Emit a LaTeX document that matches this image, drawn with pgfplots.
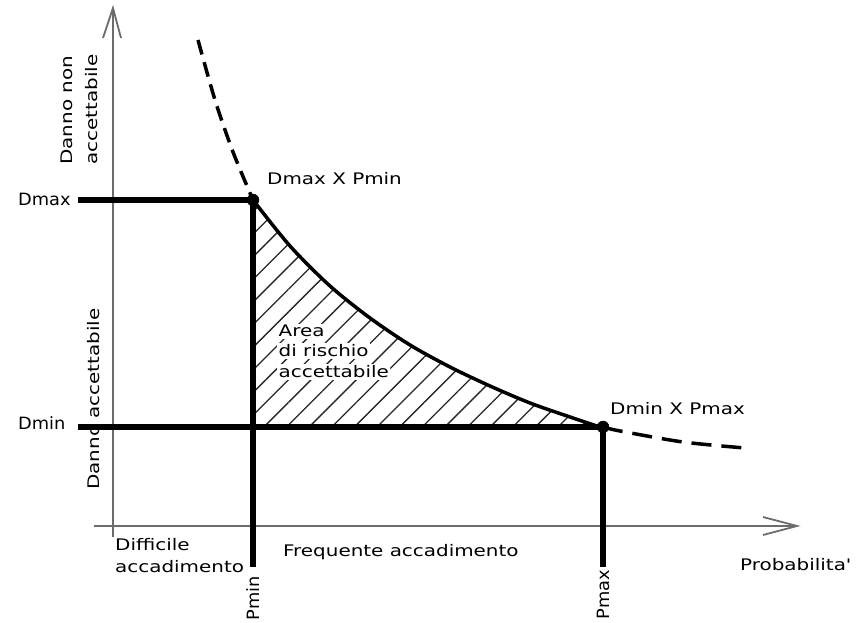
\documentclass[border=0pt]{standalone}
\usepackage{pgfplots}
\pgfplotsset{compat=1.18}
\usepgfplotslibrary{fillbetween}
\usetikzlibrary{patterns.meta}
\usepackage{fontspec}
\newfontfamily\cad[FakeStretch=1.25]{DejaVu Sans}
\newfontfamily\cadn[FakeStretch=1.05]{DejaVu Sans}
\tikzset{lab/.style={font=\cad\fontsize{16}{22}\selectfont, inner sep=0pt},
         labn/.style={font=\cadn\fontsize{17}{22}\selectfont, inner sep=0pt}}
\begin{document}
\begin{tikzpicture}
\begin{axis}[scale only axis, width=861bp, height=623bp,
  xmin=0, xmax=861, ymin=0, ymax=623, y dir=reverse,
  hide axis, clip=false]
% axes (gray)
\addplot[gray!85!black, line width=1.8bp] coordinates {(113,8) (113,537)};
\addplot[gray!85!black, line width=1.8bp] coordinates {(103,38) (113,8) (121,38)};
\addplot[gray!85!black, line width=1.8bp] coordinates {(94,526) (797,526)};
\addplot[gray!85!black, line width=1.8bp] coordinates {(763,517) (797,526) (763,535)};
% hatch
\addplot[name path=curve, black, line width=3.5bp, smooth] coordinates
  {(253,200) (290,246) (330,286) (370,318) (410,345) (450,367) (490,386) (530,403) (570,417) (603,428)};
\addplot[name path=base, draw=none] coordinates {(253,427) (603,427)};
\addplot[draw=none, pattern={Lines[angle=45, distance=16bp, line width=1.3bp]}, pattern color=black!85]
  fill between[of=curve and base];
% dashed extensions
\addplot[black, line width=3.5bp, smooth, dash pattern=on 15bp off 8bp] coordinates
  {(198,40) (215,100) (233,152) (253,200)};
\addplot[black, line width=3.5bp, smooth, dash pattern=on 20bp off 10bp] coordinates
  {(603,427) (620,431) (683,442) (745,448)};
% thick lines
\addplot[black, line width=6.5bp] coordinates {(78,200) (253,200)};
\addplot[black, line width=6.5bp] coordinates {(78,427) (603,427)};
\addplot[black, line width=6.5bp] coordinates {(253,200) (253,567)};
\addplot[black, line width=6.5bp] coordinates {(603,427) (603,567)};
\addplot[only marks, mark=*, mark size=6bp, black] coordinates {(253,200) (603,427)};
% labels
\node[labn, anchor=base west] at (axis cs:18,206) {Dmax};
\node[labn, anchor=base west] at (axis cs:18,430) {Dmin};
\node[lab, anchor=base west] at (axis cs:267,185) {Dmax X Pmin};
\node[lab, anchor=base west] at (axis cs:610,415) {Dmin X Pmax};
\node[lab, anchor=base west, fill=white, inner sep=1.5bp] at (axis cs:277,337) {Area};
\node[lab, anchor=base west, fill=white, inner sep=1.5bp] at (axis cs:277,357) {di rischio};
\node[lab, anchor=base west, fill=white, inner sep=1.5bp] at (axis cs:277,378) {accettabile};
\node[lab, anchor=base west] at (axis cs:115,551) {Difficile};
\node[lab, anchor=base west] at (axis cs:115,573) {accadimento};
\node[lab, anchor=base west] at (axis cs:283,557) {Frequente accadimento};
\node[lab, anchor=base west] at (axis cs:740,571) {Probabilita'};
\node[lab, anchor=base west, rotate=90] at (axis cs:72,165) {Danno non};
\node[lab, anchor=base west, rotate=90] at (axis cs:97,165) {accettabile};
\node[lab, anchor=base west, rotate=90] at (axis cs:99,490) {Danno accettabile};
\node[labn, anchor=base east, rotate=90] at (axis cs:259,576) {Pmin};
\node[labn, anchor=base east, rotate=90] at (axis cs:609,570) {Pmax};
\end{axis}
\pgfresetboundingbox
\path (0,0) rectangle (861bp,623bp);
\end{tikzpicture}
\end{document}
